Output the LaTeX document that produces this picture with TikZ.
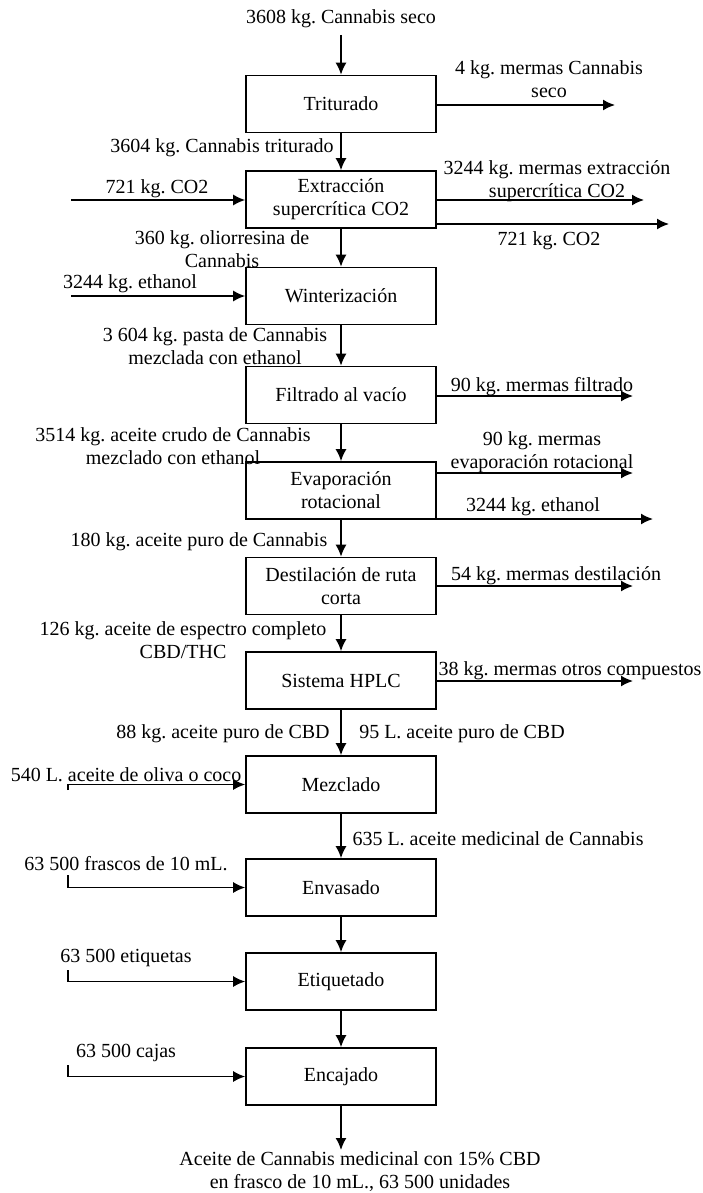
\documentclass[tikz,border=0pt]{standalone}
\usepackage{fontspec}
\setmainfont{Liberation Serif}
\usetikzlibrary{positioning, arrows.meta, calc}
\frenchspacing

\begin{document}
\begin{tikzpicture}[x=0.5pt, y=-0.5pt, line width=0.8pt,
  font=\fontsize{10}{11.5}\selectfont,
  proceso/.style={draw, minimum width=95pt, minimum height=28.5pt, align=center, inner sep=1pt},
  etiq/.style={align=center, inner sep=0pt},
  flecha/.style={-{Latex[length=6pt, width=5.5pt]}}]
\useasboundingbox (0,0) rectangle (702,1193);

% etapas del proceso
\node[proceso] (tri) at (341,104) {Triturado};
\node[proceso] (ext) at (341,199.5) {Extracción\\supercrítica CO2};
\node[proceso] (win) at (341,296) {Winterización};
\node[proceso] (fil) at (341,395) {Filtrado al vacío};
\node[proceso] (eva) at (341,490.5) {Evaporación\\rotacional};
\node[proceso] (des) at (341,586) {Destilación de ruta\\corta};
\node[proceso] (hplc) at (341,680.5) {Sistema HPLC};
\node[proceso] (mez) at (341,784.5) {Mezclado};
\node[proceso] (env) at (341,887.5) {Envasado};
\node[proceso] (eti) at (341,981.5) {Etiquetado};
\node[proceso] (enc) at (341,1076.5) {Encajado};

% textos
\node[etiq] (tCan) at (341,19) {3608 kg. Cannabis seco};
\node[etiq] (tMer1) at (549,79) {4 kg. mermas Cannabis\\seco};
\node[etiq] (tTri) at (222,148) {3604 kg. Cannabis triturado};
\node[etiq] (tCO2a) at (157,189) {721 kg. CO2};
\node[etiq] (tMer2) at (557,181) {3244 kg. mermas extracción\\supercrítica CO2};
\node[etiq] (tCO2b) at (549,241) {721 kg. CO2};
\node[etiq] (tOli) at (222,249) {360 kg. oliorresina de\\Cannabis};
\node[etiq] (tEth1) at (130,284) {3244 kg. ethanol};
\node[etiq] (tPas) at (215,346) {3 604 kg. pasta de Cannabis\\mezclada con ethanol};
\node[etiq] (tMer3) at (542,387) {90 kg. mermas filtrado};
\node[etiq] (tCru) at (173,446) {3514 kg. aceite crudo de Cannabis\\mezclado con ethanol};
\node[etiq] (tMer4) at (542,452) {90 kg. mermas\\evaporación rotacional};
\node[etiq] (tEth2) at (533,507) {3244 kg. ethanol};
\node[etiq] (tPur) at (199,542) {180 kg. aceite puro de Cannabis};
\node[etiq] (tMer5) at (556,576) {54 kg. mermas destilación};
\node[etiq] (tEsp) at (183,640) {126 kg. aceite de espectro completo\\CBD/THC};
\node[etiq] (tMer6) at (570,671) {38 kg. mermas otros compuestos};
\node[etiq] (tCbdKg) at (223,734) {88 kg. aceite puro de CBD};
\node[etiq] (tCbdL) at (462,734) {95 L. aceite puro de CBD};
\node[etiq] (tOliva) at (126,775) {540 L. aceite de oliva o coco};
\node[etiq] (tMed) at (498,839) {635 L. aceite medicinal de Cannabis};
\node[etiq] (tFra) at (126,864) {63 500 frascos de 10 mL.};
\node[etiq] (tEtq) at (126,958) {63 500 etiquetas};
\node[etiq] (tCaj) at (126,1053) {63 500 cajas};
\node[etiq] (tFin) at (360,1172) {Aceite de Cannabis medicinal con 15\% CBD\\en frasco de 10 mL., 63 500 unidades};

% extremos libres
\coordinate (sTri) at (615,105);
\coordinate (eCO2) at (71,200);
\coordinate (sExt1) at (644,200);
\coordinate (sExt2) at (669,224);
\coordinate (eEth) at (71,296);
\coordinate (sFil) at (633,396);
\coordinate (sEva1) at (633,473);
\coordinate (sEva2) at (653,519);
\coordinate (sDes) at (633,586);
\coordinate (sHplc) at (633,681);
\coordinate (eOliva) at (68,790);
\coordinate (eFra) at (68,875);
\coordinate (eEtq) at (68,970);
\coordinate (eCaj) at (68,1065);
\coordinate (sFin) at (341,1150);

% flujo principal
\draw[flecha] (tCan.south) ++(0,6) -- (tri);
\draw[flecha] (tri) -- (ext);
\draw[flecha] (ext) -- (win);
\draw[flecha] (win) -- (fil);
\draw[flecha] (fil) -- (eva);
\draw[flecha] (eva) -- (des);
\draw[flecha] (des) -- (hplc);
\draw[flecha] (hplc) -- (mez);
\draw[flecha] (mez) -- (env);
\draw[flecha] (env) -- (eti);
\draw[flecha] (eti) -- (enc);
\draw[flecha] (enc) -- (sFin);

% entradas
\draw[flecha] (eCO2) -- (eCO2 -| ext.west);
\draw[flecha] (eEth) -- (eEth -| win.west);
\draw[flecha] (eOliva) |- (mez.west);
\draw[flecha] (eFra) |- (env.west);
\draw[flecha] (eEtq) |- (eti.west);
\draw[flecha] (eCaj) |- (enc.west);

% salidas
\draw[flecha] (sTri -| tri.east) -- (sTri);
\draw[flecha] (sExt1 -| ext.east) -- (sExt1);
\draw[flecha] (sExt2 -| ext.east) -- (sExt2);
\draw[flecha] (sFil -| fil.east) -- (sFil);
\draw[flecha] (sEva1 -| eva.east) -- (sEva1);
\draw[flecha] (sEva2 -| eva.east) -- (sEva2);
\draw[flecha] (sDes -| des.east) -- (sDes);
\draw[flecha] (sHplc -| hplc.east) -- (sHplc);
\end{tikzpicture}
\end{document}
